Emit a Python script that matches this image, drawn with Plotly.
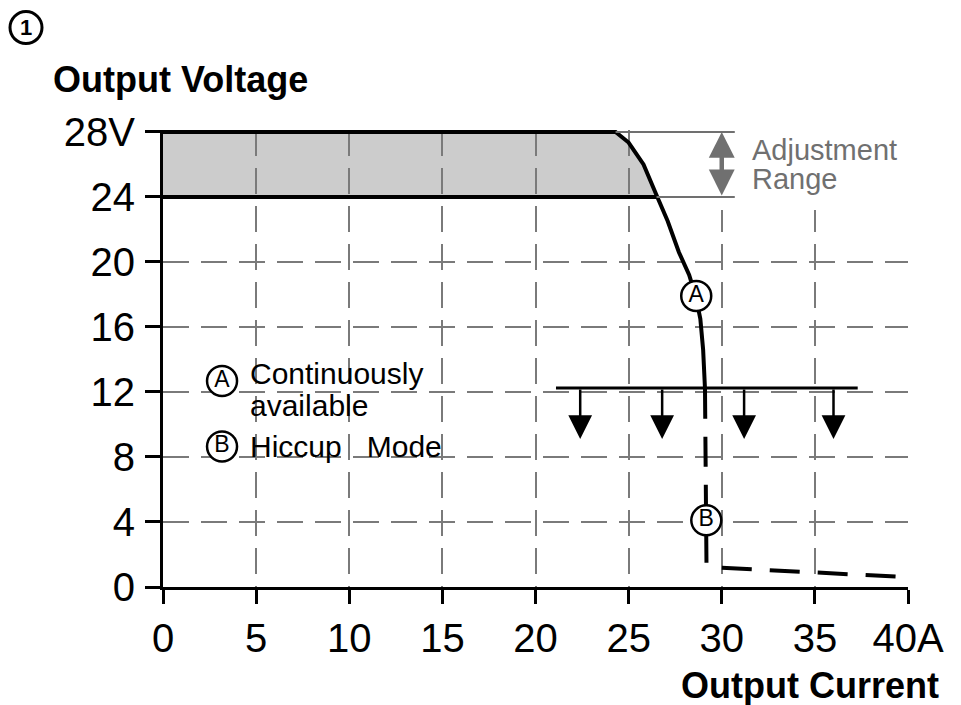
import plotly.graph_objects as go

# ---------------- data ----------------
x_ticks = [0, 5, 10, 15, 20, 25, 30, 35, 40]
x_tick_labels = ["0", "5", "10", "15", "20", "25", "30", "35", "40A"]
y_ticks = [0, 4, 8, 12, 16, 20, 24, 28]
y_tick_labels = ["0", "4", "8", "12", "16", "20", "24", "28V"]

v_high = 28.0          # upper end of adjustment range
v_low = 24.0           # lower end of adjustment range
high_line_x = [0.0, 24.3]
low_line_x = [0.0, 26.5]

# continuously available region (A)
curve_x = [24.3, 25.0, 25.8, 26.5, 27.1, 27.7, 28.25, 28.6, 28.85, 29.0, 29.1]
curve_y = [28.0, 27.35, 26.0, 24.1, 22.5, 20.6, 19.2, 17.9, 16.5, 14.6, 12.2]

# hiccup mode region (B)
hiccup_x = [29.1, 29.18, 29.35, 32.0, 35.0, 38.0, 40.0]
hiccup_y = [12.2, 1.4, 1.22, 1.05, 0.87, 0.72, 0.6]

adj_line_x_end = 30.7
adj_arrow_x = 30.0

limit_y = 12.25
limit_x = [21.1, 37.3]
limit_arrow_x = [22.4, 26.8, 31.2, 36.0]
limit_arrow_tip_y = 9.1

marker_x = [28.63, 29.17, 3.17, 3.17]
marker_y = [17.9, 4.1, 12.67, 8.65]
marker_text = ["A", "B", "A", "B"]

legend_x = 4.56
legend_lines = ["Continuously", "available", "Hiccup\u00a0\u00a0\u00a0Mode"]
legend_y = [13.12, 11.15, 8.65]

adj_text = ["Adjustment", "Range"]
adj_text_x = 31.52
adj_text_y = [26.88, 25.09]

FONT = "Liberation Sans, Arial, Helvetica, sans-serif"
GRID = "#7a7a7a"
ADJ = "#707070"

# page body has an 8px margin; plot area placed to match the reference
PAGE_OFF = 8
FIG_W, FIG_H = 961 - PAGE_OFF, 705 - PAGE_OFF
PLOT_L, PLOT_R, PLOT_T, PLOT_B = 163, 908, 132, 587   # page pixels
PW, PH = PLOT_R - PLOT_L, PLOT_B - PLOT_T


def px(xp):
    return (xp - PLOT_L) / PW


def py(yp):
    return (PLOT_B - yp) / PH


fig = go.Figure()

# 28V line + curve A
fig.add_trace(go.Scatter(x=high_line_x + curve_x, y=[v_high, v_high] + curve_y,
                         mode="lines", line=dict(color="black", width=4),
                         hoverinfo="skip", showlegend=False))
# 24V line
fig.add_trace(go.Scatter(x=low_line_x, y=[v_low, v_low], mode="lines",
                         line=dict(color="black", width=4),
                         hoverinfo="skip", showlegend=False))
# adjustment range gray extensions
fig.add_trace(go.Scatter(x=[curve_x[0], adj_line_x_end], y=[v_high, v_high], mode="lines",
                         line=dict(color=ADJ, width=2), hoverinfo="skip", showlegend=False))
fig.add_trace(go.Scatter(x=[low_line_x[1], adj_line_x_end], y=[v_low, v_low], mode="lines",
                         line=dict(color=ADJ, width=2), hoverinfo="skip", showlegend=False))
# hiccup dashed
fig.add_trace(go.Scatter(x=hiccup_x, y=hiccup_y, mode="lines",
                         line=dict(color="black", width=4, dash="30px,18px"),
                         hoverinfo="skip", showlegend=False))
# limit line
fig.add_trace(go.Scatter(x=limit_x, y=[limit_y, limit_y], mode="lines",
                         line=dict(color="black", width=3), hoverinfo="skip", showlegend=False))
# circled letters
fig.add_trace(go.Scatter(x=marker_x, y=marker_y, mode="markers+text", text=marker_text,
                         textposition="middle center",
                         textfont=dict(family=FONT, size=23, color="black"),
                         marker=dict(symbol="circle", size=30, color="white",
                                     line=dict(color="black", width=2.5)),
                         cliponaxis=False, hoverinfo="skip", showlegend=False))

# gray band shape from curve data
band = [(low_line_x[0], v_low), (low_line_x[1], v_low)]
band += [(cx, cy) for cx, cy in reversed(list(zip(curve_x, curve_y))) if cy >= v_low]
band += [(high_line_x[0], v_high)]
path = "M " + " L ".join(f"{bx},{by}" for bx, by in band) + " Z"

shapes = [
    dict(type="path", path=path, xref="x", yref="y", fillcolor="#cccccc",
         line=dict(width=0), layer="below"),
    dict(type="rect", xref="x", yref="y", x0=29.4, x1=40.6, y0=23.2, y1=28.6,
         fillcolor="white", line=dict(width=0), layer="between"),
    dict(type="circle", xref="paper", yref="paper",
         x0=px(10), x1=px(42), y0=py(46), y1=py(14),
         line=dict(color="black", width=3), fillcolor="white", layer="above"),
]

annotations = []
for ax_x in limit_arrow_x:
    annotations.append(dict(x=ax_x, y=limit_arrow_tip_y, ax=ax_x, ay=limit_y,
                            xref="x", yref="y", axref="x", ayref="y", text="",
                            showarrow=True, arrowhead=2, arrowsize=1.9, arrowwidth=2.5,
                            arrowcolor="black", standoff=0, startstandoff=0))
annotations.append(dict(x=adj_arrow_x, y=v_high, ax=adj_arrow_x, ay=v_low,
                        xref="x", yref="y", axref="x", ayref="y", text="",
                        showarrow=True, arrowside="end+start", arrowhead=2, startarrowhead=2,
                        arrowsize=1.15, startarrowsize=1.15, arrowwidth=4.5,
                        arrowcolor=ADJ, standoff=0, startstandoff=0))
for t, yy in zip(legend_lines, legend_y):
    annotations.append(dict(x=legend_x, y=yy, xref="x", yref="y", text=t, showarrow=False,
                            xanchor="left", yanchor="middle",
                            font=dict(family=FONT, size=30, color="black")))
for t, yy in zip(adj_text, adj_text_y):
    annotations.append(dict(x=adj_text_x, y=yy, xref="x", yref="y", text=t, showarrow=False,
                            xanchor="left", yanchor="middle",
                            font=dict(family=FONT, size=29, color=ADJ)))
annotations.append(dict(x=px(51), y=py(82), xref="paper", yref="paper",
                        text="<b>Output Voltage</b>", showarrow=False,
                        xanchor="left", yanchor="middle",
                        font=dict(family=FONT, size=36, color="black")))
annotations.append(dict(x=px(941), y=py(685), xref="paper", yref="paper",
                        text="<b>Output Current</b>", showarrow=False,
                        xanchor="right", yanchor="middle",
                        font=dict(family=FONT, size=36, color="black")))
annotations.append(dict(x=px(26), y=py(30), xref="paper", yref="paper",
                        text="<b>1</b>", showarrow=False,
                        xanchor="center", yanchor="middle",
                        font=dict(family=FONT, size=22, color="black")))

axis_common = dict(showline=True, linecolor="black", linewidth=3,
                   ticks="outside", tickcolor="black", tickwidth=3,
                   showgrid=True, gridcolor=GRID, gridwidth=1.5, griddash="26px,12px",
                   zeroline=False, automargin=False, fixedrange=True,
                   tickfont=dict(family=FONT, size=40, color="black"))

fig.update_layout(
    width=FIG_W, height=FIG_H,
    margin=dict(l=PLOT_L - PAGE_OFF, r=FIG_W - (PLOT_R - PAGE_OFF),
                t=PLOT_T - PAGE_OFF - 2, b=FIG_H - (PLOT_B - PAGE_OFF), pad=0),
    paper_bgcolor="white", plot_bgcolor="white",
    xaxis=dict(range=[0, 40], tickmode="array", tickvals=x_ticks, ticktext=x_tick_labels,
               ticklen=14, ticklabelstandoff=0, **axis_common),
    yaxis=dict(range=[0, 28.12], tickmode="array", tickvals=y_ticks, ticktext=y_tick_labels,
               ticklen=15, ticklabelstandoff=2, **axis_common),
    shapes=shapes, annotations=annotations, showlegend=False,
)

fig.write_html("out.html")
